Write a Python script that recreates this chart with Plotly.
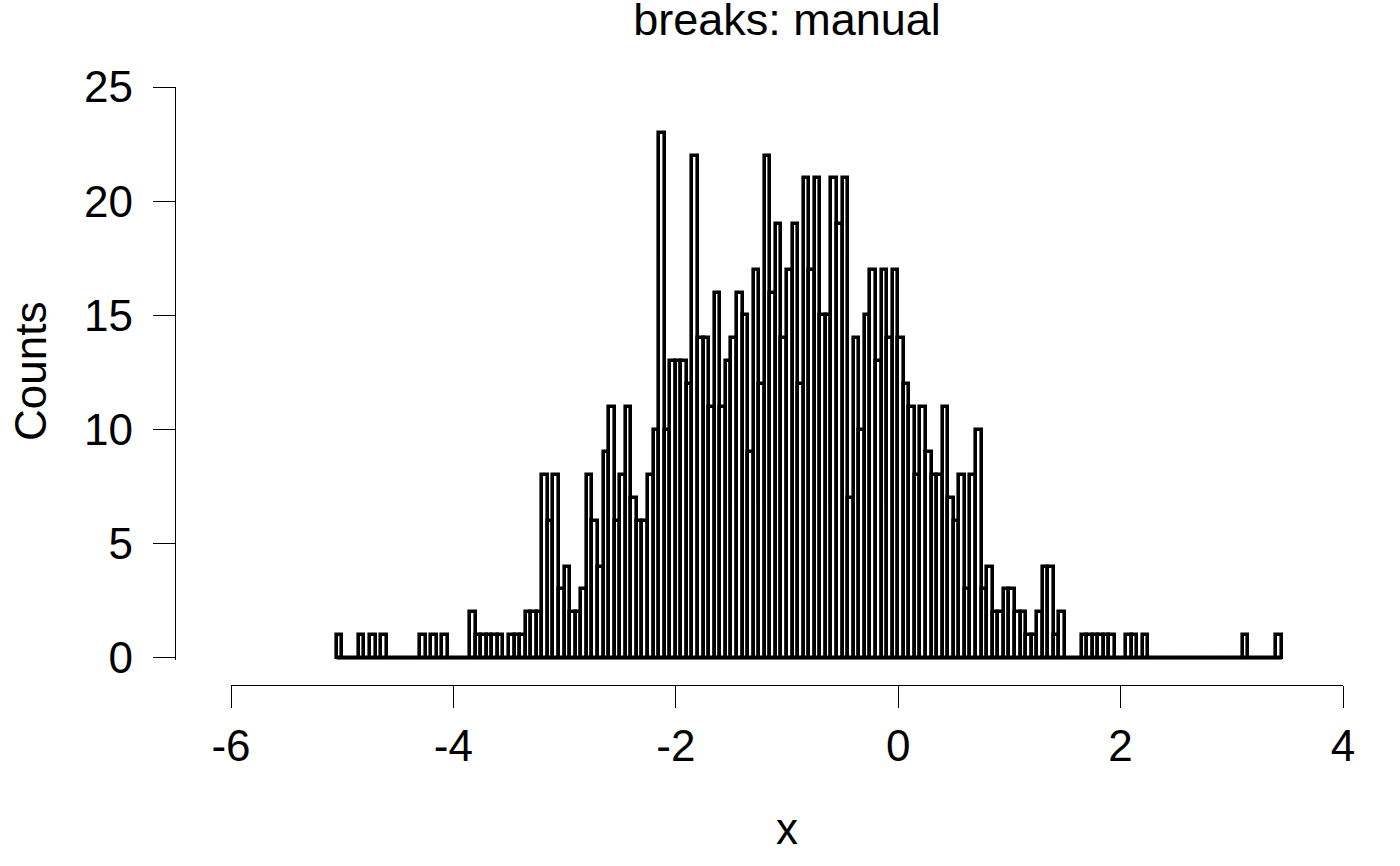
import numpy as np
import plotly.graph_objects as go

# manual breaks: seq(-5.05, 3.45, by = 0.05)
break_start = -5.05
break_end = 3.45
break_step = 0.05

# counts per bin, read left to right
counts = [
    1, 0, 0, 0, 1, 0, 1, 0, 1, 0,
    0, 0, 0, 0, 0, 1, 0, 1, 0, 1,
    0, 0, 0, 0, 2, 1, 1, 1, 1, 1,
    0, 1, 1, 1, 2, 2, 2, 8, 6, 8,
    3, 4, 2, 2, 3, 8, 6, 4, 9, 11,
    6, 8, 11, 7, 6, 6, 8, 10, 23, 10,
    13, 13, 13, 12, 22, 14, 14, 11, 16, 11,
    13, 14, 16, 15, 9, 17, 12, 22, 16, 19,
    14, 17, 19, 12, 21, 17, 21, 15, 15, 21,
    19, 21, 7, 14, 10, 15, 17, 13, 17, 14,
    17, 14, 12, 11, 8, 11, 9, 8, 8, 11,
    7, 6, 8, 3, 8, 10, 3, 4, 2, 2,
    3, 3, 2, 2, 1, 1, 2, 4, 4, 1,
    2, 0, 0, 0, 1, 1, 1, 1, 1, 1,
    0, 0, 1, 1, 0, 1, 0, 0, 0, 0,
    0, 0, 0, 0, 0, 0, 0, 0, 0, 0,
    0, 0, 0, 1, 0, 0, 0, 0, 0, 1,
]

x_ticks = [-6, -4, -2, 0, 2, 4]
y_ticks = [0, 5, 10, 15, 20, 25]

title_text = "breaks: manual"
x_title = "x"
y_title = "Counts"

breaks = np.round(np.arange(break_start, break_end + break_step / 2, break_step), 2)
mids = (breaks[:-1] + breaks[1:]) / 2

FONT = "Liberation Sans, Arial, Helvetica, sans-serif"
BAR_LINE = 3.6

fig = go.Figure()

# R draws empty bins as flat rectangles, so the base runs under every bin
fig.add_trace(go.Scatter(
    x=[breaks[0], breaks[-1]], y=[0, 0],
    mode="lines", line=dict(color="black", width=BAR_LINE),
    hoverinfo="skip", showlegend=False,
))

fig.add_trace(go.Bar(
    x=mids, y=counts, width=break_step,
    marker=dict(color="white", line=dict(color="black", width=BAR_LINE)),
    showlegend=False,
))

fig.update_layout(
    width=1400, height=866,
    margin=dict(l=175, r=57, t=87, b=181),
    paper_bgcolor="white", plot_bgcolor="white",
    font=dict(family=FONT, size=44, color="black"),
    title=dict(text=title_text, x=787 / 1400, xanchor="center",
               y=1 - 19 / 866, yanchor="middle", yref="container",
               font=dict(size=45)),
    bargap=0,
)

fig.update_xaxes(
    domain=[56 / 1168, 1], range=[-6, 4],
    tickvals=x_ticks, ticktext=[str(v) for v in x_ticks],
    ticks="outside", ticklen=22, tickwidth=1.3, tickcolor="black",
    showline=True, linecolor="black", linewidth=1.3,
    showgrid=False, zeroline=False,
    anchor="free", position=0,
    ticklabelstandoff=0,
)

fig.update_yaxes(
    domain=[(685 - 659.8) / 598, 1], range=[-0.08, 25],
    tickvals=y_ticks, ticktext=[str(v) for v in y_ticks],
    ticks="outside", ticklen=22, tickwidth=1.3, tickcolor="black",
    showline=True, linecolor="black", linewidth=1.3,
    showgrid=False, zeroline=False,
    anchor="free", position=0,
    ticklabelstandoff=11,
)

fig.add_annotation(text=x_title, xref="paper", yref="paper",
                   x=(787 - 175) / 1168, y=(685 - 828) / 598,
                   xanchor="center", yanchor="middle", showarrow=False,
                   font=dict(size=44))
fig.add_annotation(text=y_title, xref="paper", yref="paper",
                   x=(30 - 175) / 1168, y=(685 - 372) / 598,
                   xanchor="center", yanchor="middle", textangle=-90,
                   showarrow=False, font=dict(size=44))

# the page's default 8px body margin would push the whole chart off its place
fig.write_html("out.html", config={"displayModeBar": False},
               post_script="document.body.style.margin = '0';")
